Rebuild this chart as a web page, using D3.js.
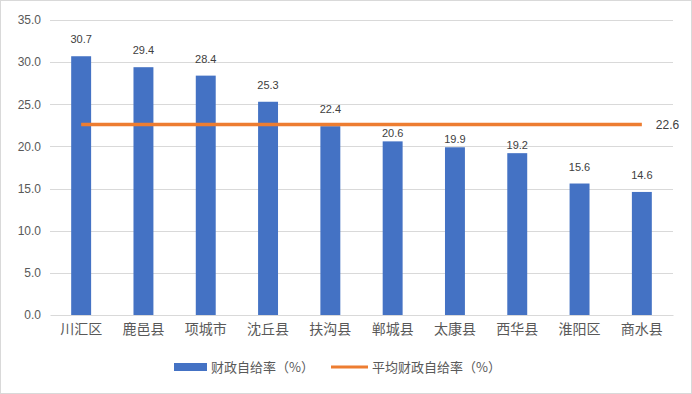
<!DOCTYPE html>
<html><head><meta charset="utf-8">
<script src="https://cdn.jsdelivr.net/npm/d3@7"></script>
<style>body{margin:0;background:#fff}svg{display:block}</style>
</head><body>
<script>
const categories = ["川汇区","鹿邑县","项城市","沈丘县","扶沟县","郸城县","太康县","西华县","淮阳区","商水县"];
const values = [30.7,29.4,28.4,25.3,22.4,20.6,19.9,19.2,15.6,14.6];
const avgValue = 22.6;
const yTicks = [0,5,10,15,20,25,30,35];
const seriesNames = ["财政自给率（%）","平均财政自给率（%）"];

const W=692,H=394;
const m={left:50,right:19,top:20,bottom:79};
const svg=d3.select("body").append("svg").attr("width",W).attr("height",H);
svg.append("rect").attr("x",0.5).attr("y",0.5).attr("width",W-1).attr("height",H-1).attr("fill","#fff").attr("stroke","#d9d9d9");
const x=d3.scaleBand().domain(categories).range([m.left,W-m.right]).paddingInner(0.68).paddingOuter(0.34);
const y=d3.scaleLinear().domain([0,35]).range([H-m.bottom,m.top]);
const numFont="'Liberation Sans',Arial,sans-serif";
const cjk="'Noto Sans CJK SC',sans-serif";

// grid
svg.append("g").selectAll("line").data(yTicks.filter(d=>d>0)).join("line")
 .attr("x1",m.left).attr("x2",W-m.right).attr("y1",d=>Math.round(y(d))+0.5).attr("y2",d=>Math.round(y(d))+0.5)
 .attr("stroke","#d9d9d9");
// y axis
const ya=svg.append("g").attr("transform",`translate(${m.left},0)`).call(d3.axisLeft(y).tickValues(yTicks).tickFormat(d3.format(".1f")).tickSize(0).tickPadding(9));
ya.select(".domain").remove();
ya.selectAll("text").attr("font-family",numFont).attr("font-size",12).attr("fill","#595959");
// bars
svg.append("g").selectAll("rect").data(values).join("rect")
 .attr("x",(d,i)=>x(categories[i])).attr("width",x.bandwidth())
 .attr("y",d=>y(d)).attr("height",d=>y(0)-y(d)).attr("fill","#4472C4");
// avg line
const cx=c=>x(c)+x.bandwidth()/2;
svg.append("line").attr("x1",cx(categories[0])).attr("x2",cx(categories[categories.length-1]))
 .attr("y1",y(avgValue)).attr("y2",y(avgValue)).attr("stroke","#ED7D31").attr("stroke-width",3.5);
// bar labels (labels a little below the average line sit closer to their bars)
const tight=d=>{const g=y(d)-y(avgValue);return g>10&&g<35;};
svg.append("g").selectAll("text").data(values).join("text")
 .attr("x",(d,i)=>x(categories[i])+x.bandwidth()/2).attr("y",d=>y(d)-(tight(d)?4.5:13))
 .attr("text-anchor","middle").attr("font-family",numFont).attr("font-size",11).attr("fill","#404040")
 .text(d=>d.toFixed(1));
// x axis
const xa=svg.append("g").attr("transform",`translate(0,${y(0)})`).call(d3.axisBottom(x).tickSize(0).tickPadding(9));
xa.select(".domain").attr("stroke","#d9d9d9");
xa.selectAll("text").attr("font-family",cjk).attr("font-size",14).attr("fill","#595959");
svg.append("text").attr("x",cx(categories[categories.length-1])+14).attr("y",y(avgValue)+4)
 .attr("font-family",numFont).attr("font-size",12).attr("fill","#404040").text(avgValue.toFixed(1));
// legend
const ly=367;
svg.append("rect").attr("x",174).attr("y",ly-4).attr("width",33).attr("height",8).attr("fill","#4472C4");
svg.append("text").attr("x",211).attr("y",ly+5).attr("font-family",cjk).attr("font-size",13).attr("fill","#595959").text(seriesNames[0]);
svg.append("line").attr("x1",331).attr("x2",368).attr("y1",ly).attr("y2",ly).attr("stroke","#ED7D31").attr("stroke-width",3);
svg.append("text").attr("x",372).attr("y",ly+5).attr("font-family",cjk).attr("font-size",13).attr("fill","#595959").text(seriesNames[1]);
</script>
</body></html>
